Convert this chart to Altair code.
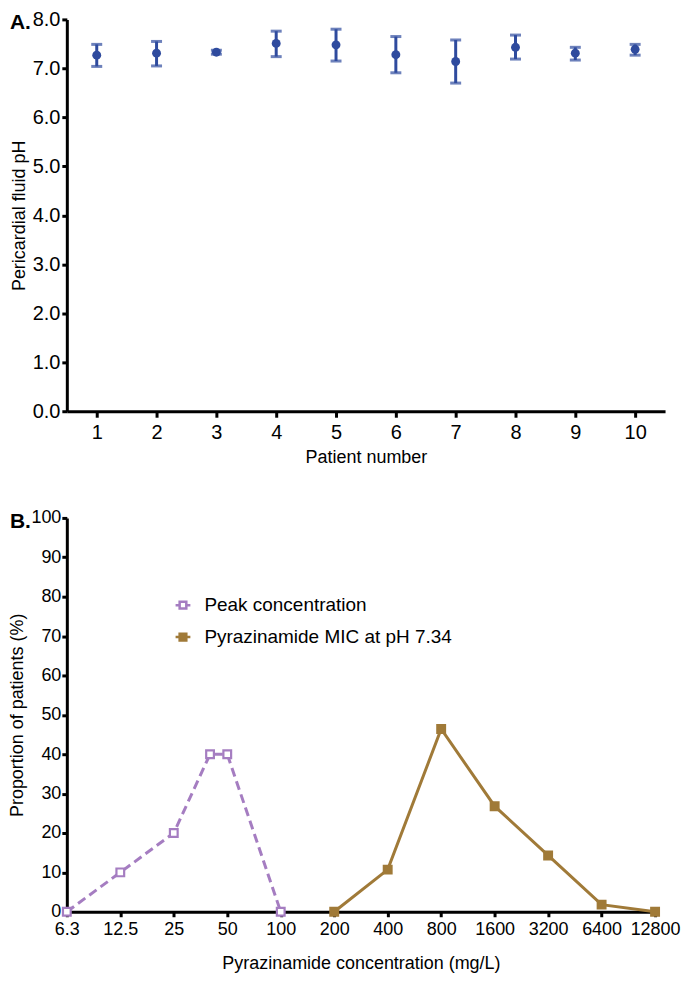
import altair as alt
import pandas as pd

# ---------------- data ----------------
patients = [1, 2, 3, 4, 5, 6, 7, 8, 9, 10]
ph_mean = [7.27, 7.31, 7.33, 7.51, 7.48, 7.28, 7.14, 7.43, 7.31, 7.39]
ph_low = [7.04, 7.05, 7.29, 7.24, 7.15, 6.91, 6.70, 7.19, 7.17, 7.27]
ph_high = [7.49, 7.55, 7.37, 7.76, 7.80, 7.65, 7.58, 7.68, 7.43, 7.49]

series_names = ["Peak concentration", "Pyrazinamide MIC at pH 7.34"]
peak_conc = [6.25, 12.5, 25, 40, 50, 100]
peak_pct = [0, 10, 20, 40, 40, 0]
mic_conc = [200, 400, 800, 1600, 3200, 6400, 12800]
mic_pct = [0, 10.7, 46.4, 26.8, 14.3, 1.8, 0]

x_tick_values = [6.25, 12.5, 25, 50, 100, 200, 400, 800, 1600, 3200, 6400, 12800]
x_tick_labels = ["6.3", "12.5", "25", "50", "100", "200", "400", "800",
                 "1600", "3200", "6400", "12800"]
ph_ticks = [i * 0.5 for i in range(17)]
pct_ticks = list(range(0, 101, 10))

BLUE = "#2f4b9e"
PURPLE = "#a57dc1"
BROWN = "#a07a38"
FONT = "Liberation Sans"
FS = 18

dfA = pd.DataFrame({"patient": patients, "mean": ph_mean, "lo": ph_low, "hi": ph_high})
dfB = pd.DataFrame({
    "conc": peak_conc + mic_conc,
    "pct": peak_pct + mic_pct,
    "series": [series_names[0]] * len(peak_conc) + [series_names[1]] * len(mic_conc),
})


def axis(**kw):
    base = dict(domainColor="black", domainWidth=3, tickColor="black", tickWidth=3,
                tickSize=6, labelFont=FONT, labelFontSize=20, labelColor="black",
                titleFont=FONT, titleFontSize=FS, titleFontWeight="normal",
                titleColor="black", grid=False, labelPadding=2,
                labelOverlap=False, labelFlush=False, labelBound=False)
    base.update(kw)
    return alt.Axis(**base)


# ---------------- panel A ----------------
xA = alt.X("patient:O", title="Patient number",
           scale=alt.Scale(type="point", padding=0.5),
           axis=axis(labelAngle=0, labelPadding=5, titlePadding=6))
yA = alt.Y("mean:Q", title="Pericardial fluid pH",
           scale=alt.Scale(domain=[0, 8], nice=False),
           axis=axis(values=ph_ticks, format=".1f", titlePadding=4, tickSize=5))

baseA = alt.Chart(dfA)
rulesA = baseA.mark_rule(color=BLUE, strokeWidth=3).encode(x=xA, y=alt.Y("lo:Q"), y2="hi:Q")
capLo = baseA.mark_tick(color=BLUE, thickness=3, size=11, orient="horizontal").encode(x=xA, y=alt.Y("lo:Q"))
capHi = baseA.mark_tick(color=BLUE, thickness=3, size=11, orient="horizontal").encode(x=xA, y=alt.Y("hi:Q"))
dotsA = baseA.mark_point(filled=True, color=BLUE, size=80, opacity=1).encode(x=xA, y=yA)
labelA = alt.Chart(pd.DataFrame({"t": ["A."]})).mark_text(
    font=FONT, fontSize=21, fontWeight="bold", align="left", baseline="middle", color="black"
).encode(text="t:N", x=alt.value(-57), y=alt.value(4))

panelA = alt.layer(dotsA, rulesA, capLo, capHi, labelA).properties(width=600, height=393)

# ---------------- panel B ----------------
label_expr = ""
for v, l in zip(x_tick_values, x_tick_labels):
    label_expr += f"datum.value == {v} ? '{l}' : "
label_expr += "''"

xB = alt.X("conc:Q", title="Pyrazinamide concentration (mg/L)",
           scale=alt.Scale(type="log", base=2, domain=[6.25, 12800], nice=False),
           axis=axis(values=x_tick_values, labelExpr=label_expr, labelFontSize=18,
                     tickSize=5, labelPadding=4, titlePadding=16))
yB = alt.Y("pct:Q", title="Proportion of patients (%)",
           scale=alt.Scale(domain=[0, 100], nice=False),
           axis=axis(values=pct_ticks, labelFontSize=18, tickSize=5, labelPadding=1,
                     titlePadding=4))

baseB = alt.Chart(dfB)
linePeak = baseB.transform_filter(alt.datum.series == series_names[0]).mark_line(
    strokeWidth=3, color=PURPLE, strokeDash=[9, 5]).encode(x=xB, y=yB)
lineMic = baseB.transform_filter(alt.datum.series == series_names[1]).mark_line(
    strokeWidth=3, color=BROWN).encode(x=xB, y=yB)

legend = alt.Legend(title=None, orient="none", legendX=107, legendY=78, padding=0,
                    labelFont=FONT, labelFontSize=19, labelColor="black", labelLimit=0,
                    symbolType="M-1,0H-0.45M0.45,0H1M-0.45,-0.45H0.45V0.45H-0.45Z",
                    symbolSize=220, symbolStrokeWidth=2.5, rowPadding=12, labelOffset=12)
pointsB = baseB.mark_square(size=60, strokeWidth=2.2, opacity=1).encode(
    x=xB, y=yB,
    stroke=alt.Stroke("series:N", scale=alt.Scale(domain=series_names, range=[PURPLE, BROWN]), legend=legend),
    fill=alt.Fill("series:N", scale=alt.Scale(domain=series_names, range=["white", BROWN]), legend=legend),
)
labelB = alt.Chart(pd.DataFrame({"t": ["B."]})).mark_text(
    font=FONT, fontSize=21, fontWeight="bold", align="left", baseline="middle", color="black"
).encode(text="t:N", x=alt.value(-57), y=alt.value(4))

panelB = alt.layer(linePeak, lineMic, pointsB, labelB).properties(width=590, height=395)

chart = (
    alt.vconcat(panelA, panelB, spacing=43)
    .resolve_scale(stroke="independent", fill="independent")
    .resolve_legend(stroke="independent", fill="independent")
    .properties(padding=0)
    .configure_view(stroke=None)
)

chart.save("out.html", embed_options={"renderer": "svg", "actions": False})
